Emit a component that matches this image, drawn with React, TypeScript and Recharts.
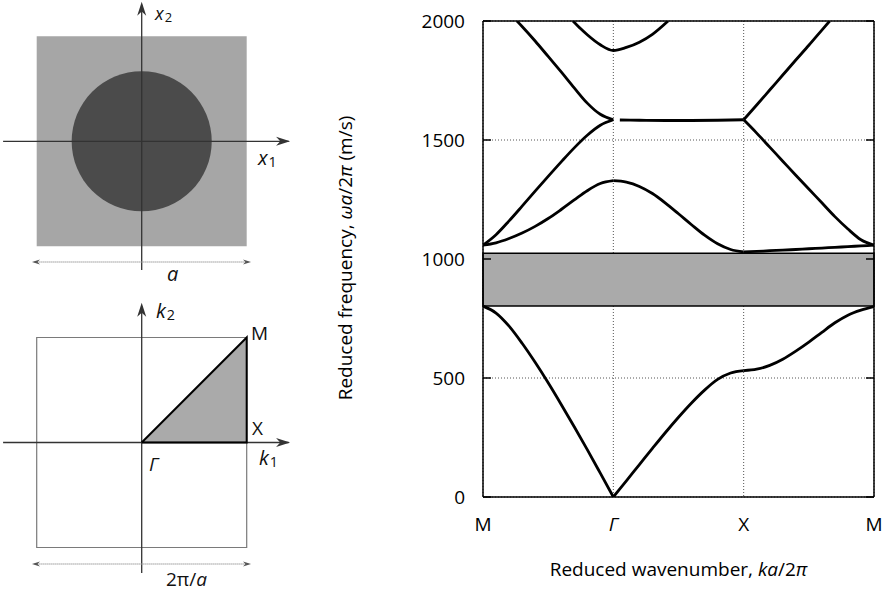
import React from 'react'
import {
  ComposedChart,
  Line,
  Area,
  XAxis,
  YAxis,
  CartesianGrid,
  ReferenceArea,
  ReferenceLine,
  ReferenceDot,
} from 'recharts'

const FONT = '"Open Sans", "Noto Sans", sans-serif'

// band structure read along M -> Γ -> X -> M, every 0.1 of a leg
const kMG = [0, 0.1, 0.2, 0.3, 0.4, 0.5, 0.6, 0.7, 0.8, 0.9, 1.0]
const kGX = [1.0, 1.1, 1.2, 1.3, 1.4, 1.5, 1.6, 1.7, 1.8, 1.9, 2.0]
const kXM = [2.0, 2.1, 2.2, 2.3, 2.4, 2.5, 2.6, 2.7, 2.8, 2.9, 3.0]

const acousticMG = [802, 773, 718, 646, 566, 480, 389, 295, 199, 100, 0]
const acousticGX = [0, 68, 136, 204, 271, 335, 395, 449, 494, 521, 531]
const acousticXM = [531, 537, 553, 579, 613, 651, 692, 732, 764, 785, 800]

const secondMG = [1058, 1068, 1086, 1109, 1137, 1170, 1208, 1248, 1287, 1317, 1329]
const secondGX = [1329, 1323, 1305, 1275, 1235, 1190, 1144, 1100, 1064, 1040, 1030]
const secondXM = [1030, 1032, 1035, 1037, 1040, 1043, 1046, 1049, 1052, 1055, 1058]

const thirdMG = [1058, 1102, 1160, 1222, 1285, 1347, 1408, 1467, 1520, 1562, 1585]
const thirdXM = [1585, 1529, 1470, 1411, 1352, 1294, 1236, 1178, 1126, 1081, 1058]

const flatK = [1.05, 1.2, 1.4, 1.6, 1.8, 2.0]
const flatF = [1584, 1583, 1582, 1582, 1583, 1585]

const fallK = [0.26, 0.3, 0.4, 0.5, 0.6, 0.7, 0.8, 0.9, 1.0]
const fallF = [2000, 1977, 1916, 1851, 1786, 1719, 1655, 1608, 1585]

const riseK = [2.0, 2.1, 2.2, 2.3, 2.4, 2.5, 2.6, 2.66]
const riseF = [1585, 1647, 1710, 1773, 1836, 1898, 1962, 2000]

const bowlK = [0.69, 0.75, 0.8, 0.9, 1.0, 1.1, 1.2, 1.3, 1.42]
const bowlF = [2000, 1967, 1942, 1900, 1876, 1889, 1911, 1944, 2000]

const bandGap = [802, 1024]
const freqTicks = [0, 500, 1000, 1500, 2000]
const kTicks = [0, 1, 2, 3]
const kLabels = ['M', 'Γ', 'X', 'M']

// schematics: unit cell [-1,1]^2, inclusion radius, irreducible zone Γ X M Γ
const cellEdge = [-1, 1]
const inclusionR = 0.667
const zoneK1 = [0, 1, 1, 0]
const zoneK2 = [0, 0, 1, 0]

const PX = 105 // px per half cell in the schematics

const pts = (ks: number[], fs: number[]) => ks.map((k, i) => ({ k, f: fs[i] }))

const bands = [
  pts(kMG, acousticMG), pts(kGX, acousticGX), pts(kXM, acousticXM),
  pts(kMG, secondMG), pts(kGX, secondGX), pts(kXM, secondXM),
  pts(kMG, thirdMG), pts(kXM, thirdXM),
  pts(flatK, flatF), pts(fallK, fallF), pts(riseK, riseF), pts(bowlK, bowlF),
]

const arrow = (dir: string, len: number, half: number, color: string) => (p: any) => {
  const { cx, cy } = p
  let d = ''
  if (dir === 'right') d = `M${cx},${cy} L${cx - len},${cy - half} L${cx - len * 0.7},${cy} L${cx - len},${cy + half} Z`
  if (dir === 'left') d = `M${cx},${cy} L${cx + len},${cy - half} L${cx + len * 0.7},${cy} L${cx + len},${cy + half} Z`
  if (dir === 'up') d = `M${cx},${cy} L${cx - half},${cy + len} L${cx},${cy + len * 0.7} L${cx + half},${cy + len} Z`
  return <path d={d} fill={color} />
}

function KTick(props: any) {
  const { x, y, payload } = props
  const label = kLabels[kTicks.indexOf(payload.value)]
  return (
    <text x={x} y={y} dy="0.71em" textAnchor="middle" fontFamily={FONT} fontSize={19} fill="#000"
      fontStyle={label === 'Γ' ? 'italic' : 'normal'}>
      {label}
    </text>
  )
}

function YLabel(props: any) {
  const vb = props.viewBox || { x: 0, y: 21, width: 153, height: 476 }
  const cx = vb.x + 15
  const cy = vb.y + vb.height / 2 - 1
  return (
    <text x={cx} y={cy} transform={`rotate(-90 ${cx} ${cy})`} textAnchor="middle" dominantBaseline="central"
      fontFamily={FONT} fontSize={19} fill="#000">
      Reduced frequency, <tspan fontStyle="italic">ωa</tspan>/2<tspan fontStyle="italic">π</tspan> (m/s)
    </text>
  )
}

function XLabel(props: any) {
  const vb = props.viewBox || { x: 153, y: 497, width: 391, height: 99 }
  return (
    <text x={vb.x + vb.width / 2} y={vb.y + 79} textAnchor="middle" fontFamily={FONT} fontSize={19} fill="#000">
      Reduced wavenumber, <tspan fontStyle="italic">ka</tspan>/2<tspan fontStyle="italic">π</tspan>
    </text>
  )
}

function BandChart() {
  const frame = { stroke: '#000', strokeWidth: 1.5 }
  return (
    <ComposedChart width={553} height={596} margin={{ top: 21, right: 9, left: 0, bottom: 0 }}>
      <CartesianGrid stroke="#555" strokeDasharray="1 2" />
      <XAxis dataKey="k" type="number" domain={[0, 3]} ticks={kTicks} allowDataOverflow height={99}
        tickSize={0} tickMargin={21} tick={<KTick />} axisLine={frame} label={XLabel} />
      <XAxis xAxisId="in" type="number" domain={[0, 3]} ticks={kTicks} allowDataOverflow orientation="bottom" mirror
        tickSize={8} tickFormatter={() => ''} axisLine={false} tickLine={{ stroke: '#000', strokeWidth: 1.5 }} />
      <XAxis xAxisId="top" type="number" domain={[0, 3]} ticks={kTicks} allowDataOverflow orientation="top" mirror
        tickSize={0} tickFormatter={() => ''} axisLine={frame} />
      <YAxis type="number" domain={[0, 2000]} ticks={freqTicks} allowDataOverflow width={153}
        tickSize={0} tickMargin={18} tick={{ fill: '#000', fontSize: 19, fontFamily: FONT }} axisLine={frame}
        label={YLabel} />
      <YAxis yAxisId="in" type="number" domain={[0, 2000]} ticks={freqTicks} allowDataOverflow orientation="left" mirror
        tickSize={8} tickFormatter={() => ''} axisLine={false} tickLine={{ stroke: '#000', strokeWidth: 1.5 }} />
      <YAxis yAxisId="right" type="number" domain={[0, 2000]} ticks={freqTicks} allowDataOverflow orientation="right" mirror
        tickSize={8} tickFormatter={() => ''} axisLine={frame} tickLine={{ stroke: '#000', strokeWidth: 1.5 }} />
      <ReferenceArea x1={0} x2={3} y1={bandGap[0]} y2={bandGap[1]} fill="#aaaaaa" fillOpacity={1}
        stroke="#000" strokeWidth={1.5} />
      {bands.map((d, i) => (
        <Line key={i} data={d} dataKey="f" type="monotone" stroke="#000" strokeWidth={2.8}
          dot={false} activeDot={false} isAnimationActive={false} />
      ))}
    </ComposedChart>
  )
}

// axes, arrow heads and the dimension line of a schematic, drawn on a transparent chart over it
function Guides({ height, yDomain, axisLow, dimY }: any) {
  return (
    <ComposedChart width={300} height={height} margin={{ top: 0, right: 0, left: 0, bottom: 0 }}>
      <XAxis dataKey="x" type="number" domain={[-1.3495, 1.5076]} allowDataOverflow hide />
      <YAxis type="number" domain={yDomain} allowDataOverflow hide />
      <ReferenceLine segment={[{ x: -1.32, y: 0 }, { x: 1.4, y: 0 }]} stroke="#333" strokeWidth={1.3} />
      <ReferenceLine segment={[{ x: 0, y: axisLow }, { x: 0, y: 1.3 }]} stroke="#333" strokeWidth={1.3} />
      <ReferenceDot x={1.413} y={0} shape={arrow('right', 14, 4.5, '#333')} />
      <ReferenceDot x={0} y={1.33} shape={arrow('up', 14, 4.5, '#333')} />
      <ReferenceLine segment={[{ x: -1.02, y: dimY }, { x: 1.02, y: dimY }]} stroke="#9a9a9a"
        strokeWidth={1.5} strokeDasharray="1 1" />
      <ReferenceDot x={-1.045} y={dimY} shape={arrow('left', 8, 2.5, '#555')} />
      <ReferenceDot x={1.041} y={dimY} shape={arrow('right', 8, 2.5, '#555')} />
    </ComposedChart>
  )
}

function UnitCell() {
  const yDomain = [-1.4162, 1.3457]
  return (
    <div style={{ position: 'relative', width: 300, height: 290 }}>
      <div style={{ position: 'absolute', left: 0, top: 0 }}>
        <ComposedChart width={300} height={290} margin={{ top: 0, right: 0, left: 0, bottom: 0 }}>
          <XAxis dataKey="x" type="number" domain={[-1.3495, 1.5076]} allowDataOverflow hide />
          <YAxis type="number" domain={yDomain} allowDataOverflow hide />
          <ReferenceArea x1={cellEdge[0]} x2={cellEdge[1]} y1={cellEdge[0]} y2={cellEdge[1]}
            fill="#a6a6a6" fillOpacity={1} stroke="none" />
          <ReferenceDot x={0} y={0} r={inclusionR * PX} fill="#4b4b4b" stroke="none" />
        </ComposedChart>
      </div>
      <div style={{ position: 'absolute', left: 0, top: 0 }}>
        <Guides height={290} yDomain={yDomain} axisLow={-1.226} dimY={-1.15} />
      </div>
    </div>
  )
}

function Zone() {
  const yDomain = [-1.4619, 1.4524]
  const tri = zoneK1.map((x, i) => ({ x, y: zoneK2[i] }))
  const fillPath = [tri[0], tri[2]]
  return (
    <div style={{ position: 'relative', width: 300, height: 306 }}>
      <div style={{ position: 'absolute', left: 0, top: 0 }}>
        <ComposedChart width={300} height={306} margin={{ top: 0, right: 0, left: 0, bottom: 0 }}>
          <XAxis dataKey="x" type="number" domain={[-1.3495, 1.5076]} allowDataOverflow hide />
          <YAxis type="number" domain={yDomain} allowDataOverflow hide />
          <ReferenceArea x1={cellEdge[0]} x2={cellEdge[1]} y1={cellEdge[0]} y2={cellEdge[1]}
            fill="#fff" fillOpacity={0} stroke="#7a7a7a" strokeWidth={1.2} />
          <Area data={fillPath} dataKey="y" type="linear" baseValue={0} fill="#aaaaaa" fillOpacity={1}
            stroke="none" isAnimationActive={false} />
        </ComposedChart>
      </div>
      <div style={{ position: 'absolute', left: 0, top: 0 }}>
        <Guides height={306} yDomain={yDomain} axisLow={-1.243} dimY={-1.157} />
      </div>
      <div style={{ position: 'absolute', left: 0, top: 0 }}>
        <ComposedChart width={300} height={306} margin={{ top: 0, right: 0, left: 0, bottom: 0 }}>
          <XAxis dataKey="x" type="number" domain={[-1.3495, 1.5076]} allowDataOverflow hide />
          <YAxis type="number" domain={yDomain} allowDataOverflow hide />
          <Line data={tri} dataKey="y" type="linear" stroke="#000" strokeWidth={2} dot={false} activeDot={false}
            isAnimationActive={false} />
        </ComposedChart>
      </div>
    </div>
  )
}

function Tag({ left, base, size = 20, children }: any) {
  return (
    <div style={{ position: 'absolute', left, top: base - 0.888 * size, fontFamily: FONT, fontSize: size,
      lineHeight: 1, whiteSpace: 'nowrap', color: '#111' }}>
      {children}
    </div>
  )
}

const sub = (s: string) => (
  <span style={{ fontSize: '0.72em', position: 'relative', top: 2, marginLeft: 1 }}>{s}</span>
)

export default function App() {
  return (
    <div style={{ position: 'absolute', left: 0, top: 0, width: 883, height: 596, background: '#fff' }}>
      <div style={{ position: 'absolute', left: 0, top: 0 }}><UnitCell /></div>
      <div style={{ position: 'absolute', left: 0, top: 290 }}><Zone /></div>
      <div style={{ position: 'absolute', left: 330, top: 0 }}><BandChart /></div>

      <Tag left={155} base={19.5} size={18}><i>x</i>{sub('2')}</Tag>
      <Tag left={258} base={166}><i>x</i>{sub('1')}</Tag>
      <Tag left={167} base={282}><i>a</i></Tag>

      <Tag left={156} base={319}><i>k</i>{sub('2')}</Tag>
      <Tag left={251} base={341} size={19}>M</Tag>
      <Tag left={252} base={436} size={19}>X</Tag>
      <Tag left={149} base={472} size={19}><i>Γ</i></Tag>
      <Tag left={259} base={466}><i>k</i>{sub('1')}</Tag>
      <Tag left={166} base={587} size={19}>2π/<i>a</i></Tag>
    </div>
  )
}
